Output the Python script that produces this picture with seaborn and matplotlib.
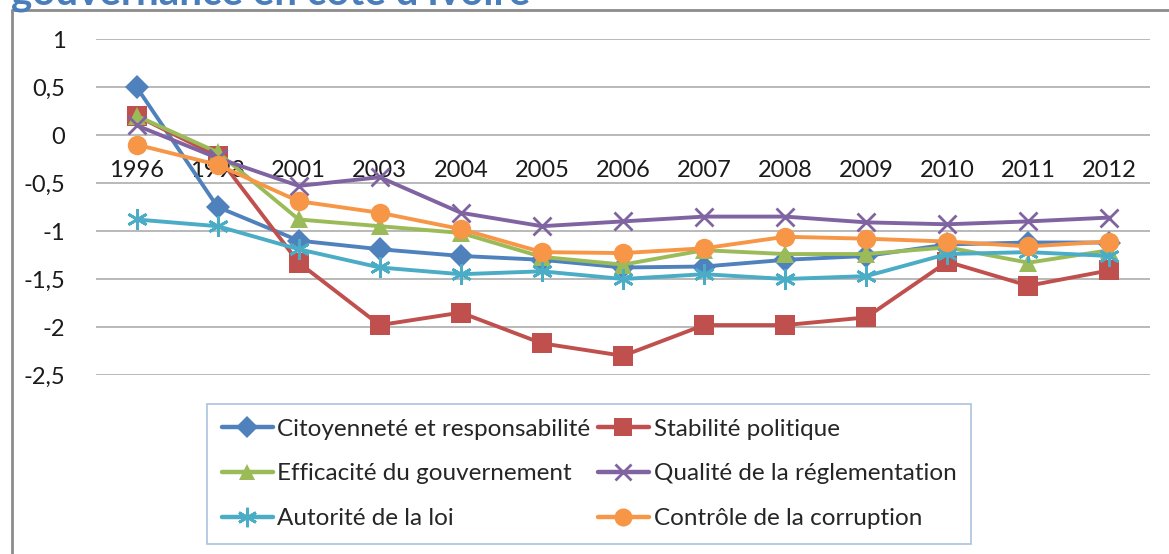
import pandas as pd
import matplotlib
matplotlib.use("Agg")
import matplotlib.pyplot as plt
import seaborn as sns
from matplotlib.ticker import FuncFormatter, FixedLocator
from matplotlib.lines import Line2D

# ---------------- DATA ----------------
annees = ["1996", "1998", "2001", "2003", "2004", "2005", "2006",
          "2007", "2008", "2009", "2010", "2011", "2012"]

citoyennete = [0.50, -0.75, -1.10, -1.19, -1.26, -1.30, -1.38, -1.37, -1.30, -1.26, -1.14, -1.12, -1.12]
stabilite = [0.20, -0.22, -1.33, -1.98, -1.85, -2.17, -2.30, -1.98, -1.98, -1.90, -1.32, -1.57, -1.41]
efficacite = [0.20, -0.18, -0.88, -0.95, -1.02, -1.27, -1.35, -1.20, -1.24, -1.24, -1.17, -1.33, -1.20]
qualite = [0.10, -0.24, -0.53, -0.44, -0.81, -0.95, -0.90, -0.85, -0.85, -0.91, -0.93, -0.90, -0.86]
autorite = [-0.88, -0.95, -1.19, -1.38, -1.45, -1.42, -1.50, -1.45, -1.50, -1.47, -1.24, -1.22, -1.26]
controle = [-0.10, -0.31, -0.69, -0.81, -0.98, -1.22, -1.23, -1.18, -1.06, -1.08, -1.11, -1.16, -1.11]

series = {
    "Citoyenneté et responsabilité": citoyennete,
    "Stabilité politique": stabilite,
    "Efficacité du gouvernement": efficacite,
    "Qualité de la réglementation": qualite,
    "Autorité de la loi": autorite,
    "Contrôle de la corruption": controle,
}

couleurs = {
    "Citoyenneté et responsabilité": "#4F81BD",
    "Stabilité politique": "#C0504D",
    "Efficacité du gouvernement": "#9BBB59",
    "Qualité de la réglementation": "#8064A2",
    "Autorité de la loi": "#4BACC6",
    "Contrôle de la corruption": "#F79646",
}
marqueurs = {
    "Citoyenneté et responsabilité": "D",
    "Stabilité politique": "s",
    "Efficacité du gouvernement": "^",
    "Qualité de la réglementation": "x",
    "Autorité de la loi": (6, 2, 0),
    "Contrôle de la corruption": "o",
}
tailles = {
    "Citoyenneté et responsabilité": 12,
    "Stabilité politique": 14,
    "Efficacité du gouvernement": 13,
    "Qualité de la réglementation": 13,
    "Autorité de la loi": 15,
    "Contrôle de la corruption": 14,
}

rows = []
for nom, vals in series.items():
    for i, v in enumerate(vals):
        rows.append({"pos": i, "valeur": v, "serie": nom})
df = pd.DataFrame(rows)

# ---------------- FIGURE ----------------
sns.set_style("white")
plt.rcParams["font.family"] = ["Lato", "DejaVu Sans"]
plt.rcParams["axes.unicode_minus"] = False

fig = plt.figure(figsize=(11.69, 5.54), dpi=100)
ax = fig.add_axes([96 / 1169, 1 - 375 / 554, 1054 / 1169, 336 / 554])

for nom in series:
    sub = df[df["serie"] == nom]
    mew = 2 if nom in ("Qualité de la réglementation", "Autorité de la loi") else 0
    sns.lineplot(data=sub, x="pos", y="valeur", ax=ax, color=couleurs[nom],
                 marker=marqueurs[nom], markersize=tailles[nom], markeredgewidth=mew,
                 markeredgecolor=couleurs[nom], linewidth=2.8, label=nom,
                 legend=False, zorder=3)

ax.set_xlim(-0.5, len(annees) - 0.5)
ax.set_ylim(-2.5, 1)
ax.yaxis.set_major_locator(FixedLocator([1, 0.5, 0, -0.5, -1, -1.5, -2, -2.5]))
ax.yaxis.set_major_formatter(FuncFormatter(lambda v, p: ("%g" % v).replace(".", ",")))
ax.grid(axis="y", color="#A6A6A6", linewidth=1.1)
ax.grid(axis="x", visible=False)
ax.set_xlabel("")
ax.set_ylabel("")

# x axis crossing at 0, like Excel
ax.spines["bottom"].set_position(("data", 0))
for s in ["top", "right", "left", "bottom"]:
    ax.spines[s].set_visible(False)
ax.set_xticks(range(len(annees)))
ax.set_xticklabels(annees)
ax.tick_params(axis="x", length=0, pad=18, labelsize=17, labelcolor="#1A1A1A")
ax.tick_params(axis="y", length=0, pad=22, labelsize=17, labelcolor="#1A1A1A")
for t in ax.get_yticklabels():
    t.set_horizontalalignment("right")

# ---------------- LEGEND ----------------
ordre = ["Citoyenneté et responsabilité", "Efficacité du gouvernement", "Autorité de la loi",
         "Stabilité politique", "Qualité de la réglementation", "Contrôle de la corruption"]
handles = []
for nom in ordre:
    mew = 2 if nom in ("Qualité de la réglementation", "Autorité de la loi") else 0
    handles.append(Line2D([], [], color=couleurs[nom], marker=marqueurs[nom],
                          markersize=tailles[nom] - 1, markeredgewidth=mew,
                          markeredgecolor=couleurs[nom], linewidth=3.2))
leg = fig.legend(handles, ordre, ncol=2, loc="upper left",
                 bbox_to_anchor=(207 / 1169, 1 - 404 / 554),
                 frameon=True, fancybox=False, fontsize=17.5, handlelength=2.1,
                 handletextpad=0.2, columnspacing=0.3, labelspacing=0.98,
                 borderpad=0.6, borderaxespad=0)
leg.get_frame().set_edgecolor("#95B3D7")
leg.get_frame().set_linewidth(1.2)

# chart area border and cut title
fig.add_artist(plt.Line2D([12 / 1169, 12 / 1169], [0, 1 - 10 / 554], color="#8C8C8C", linewidth=2))
fig.add_artist(plt.Line2D([12 / 1169, 1], [1 - 10 / 554, 1 - 10 / 554], color="#8C8C8C", linewidth=2))
fig.text(11 / 1169, 1 - 4 / 554, "gouvernance en côte d'Ivoire", color="#4A7EBB",
         fontsize=29, fontweight="bold", va="baseline", ha="left")

fig.savefig("out.png", dpi=100, facecolor="white")
